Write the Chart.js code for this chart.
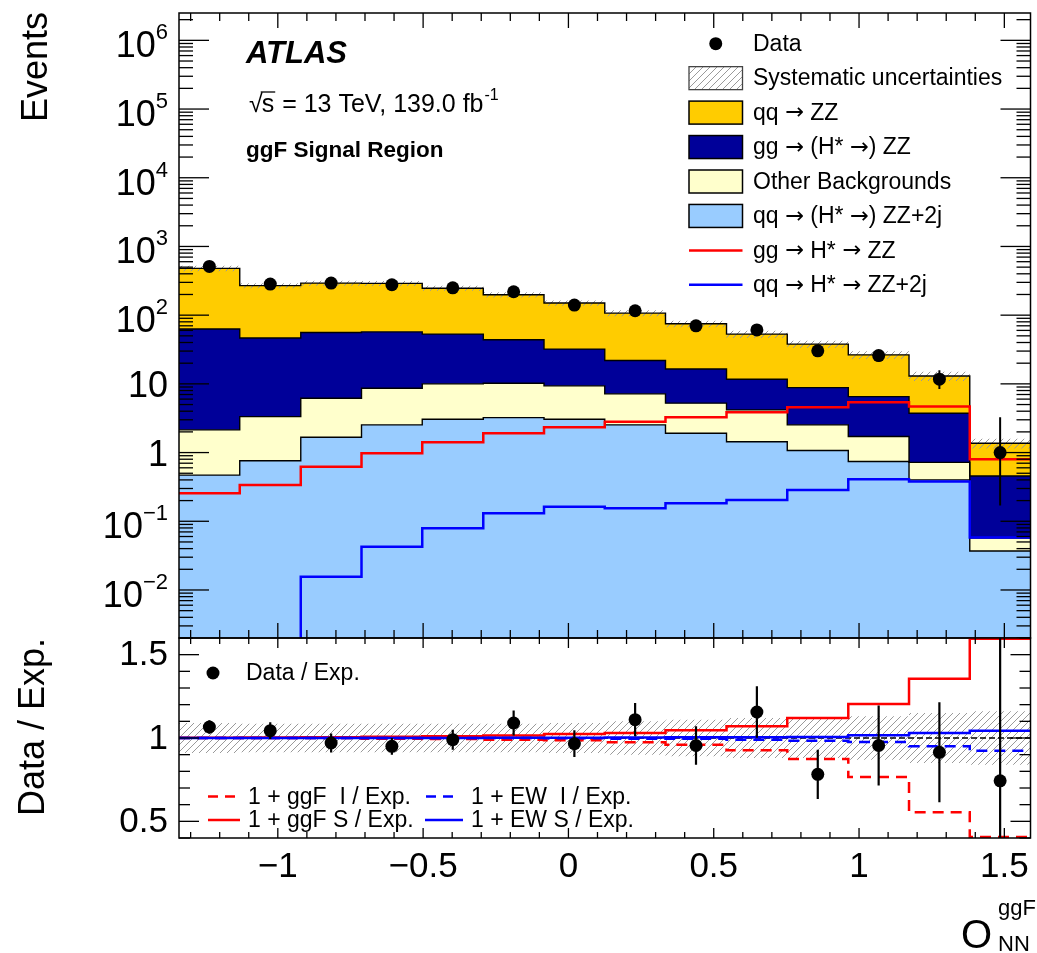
<!DOCTYPE html>
<html>
<head>
<meta charset="utf-8">
<script src="https://cdn.jsdelivr.net/npm/chart.js@4.4.0/dist/chart.umd.min.js"></script>
<style>
html,body{margin:0;padding:0;background:#fff;}
#wrap{position:relative;width:1037px;height:953px;overflow:hidden;}
#wrap canvas{position:absolute;left:0;top:0;}
</style>
</head>
<body>
<div id="wrap">
<canvas id="topPanel" width="1037" height="953"></canvas>
<canvas id="ratioPanel" width="1037" height="953"></canvas>
</div>
<script>
// ---------------- DATA ----------------
const binEdges = [-1.34, -1.131, -0.921, -0.712, -0.503, -0.293, -0.084, 0.125, 0.334, 0.544, 0.753, 0.963, 1.172, 1.381, 1.59];

const dataEvents  = [512, 283, 293, 277, 250, 219, 140, 116, 70, 61, 30.3, 25.8, 11.7, 1.0];
const dataErrDown = [22, 17, 17, 16, 16, 15, 12, 11, 8.5, 8, 5.5, 5, 3.3, 0.83];
const dataErrUp   = [23, 17, 17, 17, 16, 15, 12, 11, 8.5, 8, 5.5, 5, 4.1, 2.27];

const qqZZ     = [417, 223, 237, 233, 194, 154, 118, 85.2, 58.4, 41.3, 29.1, 19.9, 9.26, 0.91];
const ggZZ     = [60.6, 43.1, 49.6, 48.5, 43.0, 33.6, 22.7, 14.7, 11.2, 7.5, 6.3, 4.82, 3.02, 0.40];
const otherBkg = [1.67, 2.58, 4.52, 6.12, 6.94, 6.97, 6.29, 4.62, 3.33, 2.74, 1.46, 0.97, 0.32, 0.020];
const qqZZ2j   = [0.47, 0.76, 1.67, 2.53, 3.06, 3.23, 3.06, 2.53, 1.91, 1.44, 1.07, 0.74, 0.40, 0.037];

const ggHstarZZ   = [0.256, 0.338, 0.624, 0.98, 1.41, 1.91, 2.34, 2.82, 3.27, 3.87, 4.58, 5.41, 4.67, 0.80];
const qqHstarZZ2j = [0.0001, 0.0001, 0.0156, 0.0427, 0.079, 0.131, 0.163, 0.155, 0.183, 0.204, 0.286, 0.409, 0.378, 0.058];

const sysRel = [0.09, 0.085, 0.085, 0.085, 0.085, 0.085, 0.09, 0.10, 0.11, 0.12, 0.12, 0.13, 0.15, 0.16];

const ratioData    = [1.066, 1.044, 0.970, 0.950, 0.990, 1.090, 0.966, 1.110, 0.955, 1.156, 0.782, 0.955, 0.914, 0.743];
const ratioErrDown = [0.04, 0.05, 0.057, 0.05, 0.06, 0.075, 0.08, 0.10, 0.116, 0.155, 0.148, 0.24, 0.30, 0.61];
const ratioErrUp   = [0.04, 0.05, 0.057, 0.05, 0.06, 0.075, 0.08, 0.10, 0.116, 0.155, 0.148, 0.24, 0.30, 1.70];

const ggfIRatio = [1.0, 1.0, 1.0, 0.995, 0.994, 0.99, 0.986, 0.974, 0.96, 0.926, 0.874, 0.766, 0.554, 0.406];
const ggfSRatio = [1.002, 1.003, 1.005, 1.007, 1.01, 1.015, 1.024, 1.03, 1.046, 1.07, 1.12, 1.204, 1.355, 1.595];
const ewIRatio  = [1.0, 1.0, 1.0, 1.0, 1.0, 1.0, 0.998, 0.996, 0.995, 0.99, 0.984, 0.976, 0.95, 0.924];
const ewSRatio  = [1.0, 1.0, 1.0, 1.0, 1.0, 1.001, 1.002, 1.003, 1.004, 1.005, 1.006, 1.016, 1.03, 1.044];

const xTickValues = [-1, -0.5, 0, 0.5, 1, 1.5];
const xTickLabels = ['\u22121', '\u22120.5', '0', '0.5', '1', '1.5'];
const yTopTickValues = [1e-2, 1e-1, 1, 10, 1e2, 1e3, 1e4, 1e5, 1e6];
const yTopTickBase   = ['10', '10', '1', '10', '10', '10', '10', '10', '10'];
const yTopTickExp    = ['\u22122', '\u22121', '', '', '2', '3', '4', '5', '6'];
const yRatioTickValues = [0.5, 1, 1.5];
const yRatioTickLabels = ['0.5', '1', '1.5'];

// ---------------- HELPERS ----------------
const F = '"Liberation Sans", Arial, Helvetica, sans-serif';
const FA = '"DejaVu Sans", sans-serif';
const COL = { qqZZ:'#FFCC00', ggZZ:'#000099', other:'#FFFFCC', qqZZ2j:'#99CCFF', red:'#FF0000', blue:'#0000FF' };

function stepPts(vals){
  const p = vals.map((v,i)=>({x:binEdges[i], y:v}));
  p.push({x:binEdges[binEdges.length-1], y:vals[vals.length-1]});
  return p;
}
const centers = binEdges.slice(0,-1).map((e,i)=>(e+binEdges[i+1])/2);
function cum(...arrs){ return arrs[0].map((_,i)=>arrs.reduce((s,a)=>s+a[i],0)); }

const cumLB    = cum(qqZZ2j);
const cumOther = cum(qqZZ2j, otherBkg);
const cumGG    = cum(qqZZ2j, otherBkg, ggZZ);
const cumTot   = cum(qqZZ2j, otherBkg, ggZZ, qqZZ);
const topBandLo = cumTot.map((v,i)=>v*(1-sysRel[i]));
const topBandHi = cumTot.map((v,i)=>v*(1+sysRel[i]));
const ratioBandLo = sysRel.map(u=>1-u);
const ratioBandHi = sysRel.map(u=>1+u);

function makeHatch(){
  const c = document.createElement('canvas'); c.width = 7; c.height = 7;
  const g = c.getContext('2d');
  g.strokeStyle = '#9a9a9a'; g.lineWidth = 1;
  g.beginPath();
  g.moveTo(-1,8); g.lineTo(8,-1);
  g.moveTo(-1,1); g.lineTo(1,-1);
  g.moveTo(6,8); g.lineTo(8,6);
  g.stroke();
  return g.createPattern(c, 'repeat');
}
const hatch = makeHatch();

function hline(ctx,x1,y1,x2,y2){ ctx.beginPath(); ctx.moveTo(x1,y1); ctx.lineTo(x2,y2); ctx.stroke(); }

// draw text where arrows use a wider arrow glyph
function richText(ctx, text, x, y, size){
  const parts = text.split('\u2192');
  let cx = x;
  parts.forEach((p,i)=>{
    ctx.font = size+'px '+F;
    ctx.fillText(p, cx, y);
    cx += ctx.measureText(p).width;
    if (i < parts.length-1){
      ctx.font = (size*0.98)+'px '+FA;
      ctx.fillText('\u2192', cx, y);
      cx += ctx.measureText('\u2192').width;
    }
  });
}

function drawXTicks(ctx, xs, a, majLen, minLen){
  for (let k=-13; k<=15; k++){
    const px = xs.getPixelForValue(k/10);
    const L = (k%5===0) ? majLen : minLen;
    hline(ctx, px, a.bottom, px, a.bottom - L);
    hline(ctx, px, a.top, px, a.top + L);
  }
}

const common = {
  responsive:false, maintainAspectRatio:false, animation:false, devicePixelRatio:1, events:[],
  plugins:{ legend:{display:false}, tooltip:{enabled:false}, filler:{drawTime:'beforeDatasetsDraw'} },
  elements:{ point:{radius:0}, line:{tension:0} }
};

function lineDS(vals, color, width, dash, order){
  return { data: stepPts(vals), stepped:true, borderColor:color, borderWidth:width, borderDash:dash||[],
           fill:false, pointRadius:0, clip:0, order:order };
}
function stackDS(vals, color, fill, order){
  return { data: stepPts(vals), stepped:true, borderColor:'#000', borderWidth:1.4,
           backgroundColor:color, fill:fill, pointRadius:0, clip:0, order:order };
}

// ---------------- TOP PANEL ----------------
const topDeco = {
  id:'topDeco',
  afterDatasetsDraw(chart){
    const ctx = chart.ctx, a = chart.chartArea, xs = chart.scales.x, ys = chart.scales.y;
    ctx.save();
    ctx.beginPath(); ctx.rect(a.left, a.top, a.right-a.left, a.bottom-a.top); ctx.clip();
    ctx.strokeStyle = '#000'; ctx.lineWidth = 2;
    centers.forEach((c,i)=>{
      const px = xs.getPixelForValue(c);
      hline(ctx, px, ys.getPixelForValue(dataEvents[i]+dataErrUp[i]), px, ys.getPixelForValue(dataEvents[i]-dataErrDown[i]));
    });
    ctx.restore();
  },
  afterDraw(chart){
    const ctx = chart.ctx, a = chart.chartArea, xs = chart.scales.x, ys = chart.scales.y;
    ctx.save();
    ctx.strokeStyle = '#000'; ctx.lineWidth = 1.5;
    ctx.strokeRect(a.left, a.top, a.right-a.left, a.bottom-a.top);
    ctx.lineWidth = 1.3;
    drawXTicks(ctx, xs, a, 15, 8);
    for (let d=-3; d<=6; d++){
      for (let m=1; m<=9; m++){
        const v = m*Math.pow(10,d);
        if (v < ys.min || v > ys.max) continue;
        const py = ys.getPixelForValue(v);
        const L = (m===1) ? 30 : 14;
        hline(ctx, a.left, py, a.left+L, py);
        hline(ctx, a.right, py, a.right-L, py);
      }
    }
    ctx.fillStyle = '#000';
    yTopTickValues.forEach((v,i)=>{
      const py = ys.getPixelForValue(v);
      const base = yTopTickBase[i], ex = yTopTickExp[i];
      const xr = 168;
      if (!ex){
        ctx.font = '36px '+F; ctx.textAlign='right'; ctx.textBaseline='alphabetic';
        ctx.fillText(base, xr, py+13);
      } else {
        ctx.font = '22px '+F; const we = ctx.measureText(ex).width;
        ctx.textAlign='left'; ctx.textBaseline='alphabetic';
        ctx.fillText(ex, xr-we, py-1);
        ctx.font = '36px '+F; ctx.textAlign='right';
        ctx.fillText(base, xr-we, py+17);
      }
    });
    ctx.save();
    ctx.translate(46.5, 12); ctx.rotate(-Math.PI/2);
    ctx.font = '36px '+F; ctx.textAlign='right'; ctx.textBaseline='alphabetic';
    ctx.fillText('Events', 0, 0);
    ctx.restore();
    ctx.textAlign='left'; ctx.textBaseline='alphabetic';
    ctx.font = 'italic bold 31px '+F;
    ctx.fillText('ATLAS', 246, 63);
    ctx.font = '25px '+F;
    let x0 = 249, yb = 111.5;
    ctx.fillText('\u221A', x0, yb);
    const wr = ctx.measureText('\u221A').width;
    ctx.fillText('s', x0+wr-1, yb);
    const ws = ctx.measureText('s').width;
    ctx.lineWidth = 1.3;
    hline(ctx, x0+wr-2, yb-19.5, x0+wr+ws, yb-19.5);
    const rest = ' = 13 TeV, 139.0 fb';
    ctx.fillText(rest, x0+wr+ws, yb);
    const wrest = ctx.measureText(rest).width;
    ctx.font = '16px '+F;
    ctx.fillText('-1', x0+wr+ws+wrest+1, yb-12);
    ctx.font = 'bold 22.5px '+F;
    ctx.fillText('ggF Signal Region', 246, 157);
    const rows = [
      {k:'marker', t:'Data'},
      {k:'hatch', t:'Systematic uncertainties'},
      {k:'box', c:COL.qqZZ, t:'qq \u2192 ZZ'},
      {k:'box', c:COL.ggZZ, t:'gg \u2192 (H* \u2192) ZZ'},
      {k:'box', c:COL.other, t:'Other Backgrounds'},
      {k:'box', c:COL.qqZZ2j, t:'qq \u2192 (H* \u2192) ZZ+2j'},
      {k:'line', c:COL.red, t:'gg \u2192 H* \u2192 ZZ'},
      {k:'line', c:COL.blue, t:'qq \u2192 H* \u2192 ZZ+2j'}
    ];
    const bx1 = 689, bx2 = 742.5, tx = 753, y0 = 43.7, dy = 34.45;
    rows.forEach((r,i)=>{
      const y = y0 + i*dy;
      if (r.k==='marker'){
        ctx.fillStyle='#000'; ctx.beginPath(); ctx.arc((bx1+bx2)/2, y, 6.5, 0, 2*Math.PI); ctx.fill();
      } else if (r.k==='hatch'){
        ctx.fillStyle = '#fff'; ctx.fillRect(bx1, y-11.5, bx2-bx1, 23);
        ctx.fillStyle = hatch; ctx.fillRect(bx1, y-11.5, bx2-bx1, 23);
        ctx.strokeStyle='#444'; ctx.lineWidth=1.3; ctx.strokeRect(bx1, y-11.5, bx2-bx1, 23);
      } else if (r.k==='box'){
        ctx.fillStyle = r.c; ctx.fillRect(bx1, y-11.5, bx2-bx1, 23);
        ctx.strokeStyle='#000'; ctx.lineWidth=1.5; ctx.strokeRect(bx1, y-11.5, bx2-bx1, 23);
      } else {
        ctx.strokeStyle = r.c; ctx.lineWidth = 2.5; hline(ctx, bx1, y, bx2, y);
      }
      ctx.fillStyle='#000'; ctx.textAlign='left'; ctx.textBaseline='middle';
      richText(ctx, r.t, tx, y+1, 23);
    });
    ctx.restore();
  }
};

new Chart(document.getElementById('topPanel'), {
  type:'line',
  data:{ datasets:[
    stackDS(cumLB, COL.qqZZ2j, 'start', 20),
    stackDS(cumOther, COL.other, '-1', 19),
    stackDS(cumGG, COL.ggZZ, '-1', 18),
    stackDS(cumTot, COL.qqZZ, '-1', 17),
    { data: stepPts(topBandLo), stepped:true, borderWidth:0, borderColor:'rgba(0,0,0,0)', fill:false, pointRadius:0, clip:0, order:16 },
    { data: stepPts(topBandHi), stepped:true, borderWidth:0, borderColor:'rgba(0,0,0,0)', backgroundColor:hatch, fill:'-1', pointRadius:0, clip:0, order:15 },
    lineDS(ggHstarZZ, COL.red, 2.5, null, 5),
    lineDS(qqHstarZZ2j, COL.blue, 2.5, null, 4),
    { data: centers.map((c,i)=>({x:c, y:dataEvents[i]})), showLine:false, pointRadius:6.5, pointBorderWidth:0,
      pointBackgroundColor:'#000', pointBorderColor:'#000', order:1 }
  ]},
  options: Object.assign({}, common, {
    layout:{ padding:{ left:179, right:2, top:13, bottom:315 } },
    scales:{
      x:{ type:'linear', min:binEdges[0], max:binEdges[binEdges.length-1], display:false, bounds:'data' },
      y:{ type:'logarithmic', min:0.002, max:2.5e6, display:false, bounds:'data' }
    }
  }),
  plugins:[topDeco]
});

// ---------------- RATIO PANEL ----------------
const ratioDeco = {
  id:'ratioDeco',
  beforeDatasetsDraw(chart){
    const ctx = chart.ctx, a = chart.chartArea, ys = chart.scales.y;
    ctx.save();
    ctx.strokeStyle='#000'; ctx.lineWidth=1.5; ctx.setLineDash([6,3]);
    const py = ys.getPixelForValue(1);
    hline(ctx, a.left, py, a.right, py);
    ctx.restore();
  },
  afterDatasetsDraw(chart){
    const ctx = chart.ctx, a = chart.chartArea, xs = chart.scales.x, ys = chart.scales.y;
    ctx.save();
    ctx.beginPath(); ctx.rect(a.left, a.top, a.right-a.left, a.bottom-a.top); ctx.clip();
    ctx.strokeStyle='#000'; ctx.lineWidth=2.2;
    centers.forEach((c,i)=>{
      const px = xs.getPixelForValue(c);
      hline(ctx, px, ys.getPixelForValue(ratioData[i]+ratioErrUp[i]), px, ys.getPixelForValue(ratioData[i]-ratioErrDown[i]));
    });
    ctx.restore();
  },
  afterDraw(chart){
    const ctx = chart.ctx, a = chart.chartArea, xs = chart.scales.x, ys = chart.scales.y;
    ctx.save();
    ctx.strokeStyle='#000'; ctx.lineWidth=1.5;
    ctx.strokeRect(a.left, a.top, a.right-a.left, a.bottom-a.top);
    ctx.lineWidth=1.3;
    drawXTicks(ctx, xs, a, 10, 6);
    for (let k=4; k<=16; k++){
      const py = ys.getPixelForValue(k/10);
      const L = (k%5===0) ? 20 : 11;
      hline(ctx, a.left, py, a.left+L, py);
      hline(ctx, a.right, py, a.right-L, py);
    }
    ctx.fillStyle='#000';
    ctx.font='35px '+F; ctx.textAlign='right'; ctx.textBaseline='middle';
    yRatioTickValues.forEach((v,i)=>{ ctx.fillText(yRatioTickLabels[i], 168, ys.getPixelForValue(v)+1); });
    ctx.textAlign='center'; ctx.textBaseline='top';
    xTickValues.forEach((v,i)=>{ ctx.fillText(xTickLabels[i], xs.getPixelForValue(v), 850); });
    ctx.save();
    ctx.translate(44, 638); ctx.rotate(-Math.PI/2);
    ctx.font='36px '+F; ctx.textAlign='right'; ctx.textBaseline='alphabetic';
    ctx.fillText('Data / Exp.', 0, 0);
    ctx.restore();
    ctx.textAlign='left'; ctx.textBaseline='alphabetic';
    ctx.font='40px '+F; ctx.fillText('O', 961, 948);
    ctx.font='22px '+F; ctx.fillText('ggF', 998, 915); ctx.fillText('NN', 998, 951);
    ctx.beginPath(); ctx.arc(213, 673, 6.5, 0, 2*Math.PI); ctx.fill();
    ctx.font='23px '+F; ctx.textBaseline='middle';
    ctx.fillText('Data / Exp.', 246, 674);
    const L = [
      {x1:208, x2:238, y:796.5, c:COL.red, dash:[10,7], tx:248, t:'1 + ggF  I / Exp.'},
      {x1:208, x2:240, y:820, c:COL.red, dash:[], tx:248, t:'1 + ggF S / Exp.'},
      {x1:426, x2:456, y:796.5, c:COL.blue, dash:[10,7], tx:471, t:'1 + EW  I / Exp.'},
      {x1:425, x2:463, y:820, c:COL.blue, dash:[], tx:471, t:'1 + EW S / Exp.'}
    ];
    L.forEach(l=>{
      ctx.strokeStyle=l.c; ctx.lineWidth=2.5; ctx.setLineDash(l.dash);
      hline(ctx, l.x1, l.y, l.x2, l.y);
      ctx.setLineDash([]);
      ctx.fillStyle='#000'; ctx.font='23px '+F; ctx.textBaseline='middle';
      ctx.fillText(l.t, l.tx, l.y+1);
    });
    ctx.restore();
  }
};

new Chart(document.getElementById('ratioPanel'), {
  type:'line',
  data:{ datasets:[
    { data: stepPts(ratioBandLo), stepped:true, borderWidth:0, borderColor:'rgba(0,0,0,0)', fill:false, pointRadius:0, clip:0, order:20 },
    { data: stepPts(ratioBandHi), stepped:true, borderWidth:0, borderColor:'rgba(0,0,0,0)', backgroundColor:hatch, fill:'-1', pointRadius:0, clip:0, order:19 },
    lineDS(ggfIRatio, COL.red, 2.5, [11,7], 9),
    lineDS(ggfSRatio, COL.red, 2.5, null, 8),
    lineDS(ewIRatio, COL.blue, 2.5, [11,7], 7),
    lineDS(ewSRatio, COL.blue, 2.5, null, 6),
    { data: centers.map((c,i)=>({x:c, y:ratioData[i]})), showLine:false, pointRadius:6.5, pointBorderWidth:0,
      pointBackgroundColor:'#000', pointBorderColor:'#000', order:1 }
  ]},
  options: Object.assign({}, common, {
    layout:{ padding:{ left:179, right:2, top:638, bottom:115 } },
    scales:{
      x:{ type:'linear', min:binEdges[0], max:binEdges[binEdges.length-1], display:false, bounds:'data' },
      y:{ type:'linear', min:0.4, max:1.6, display:false, bounds:'data' }
    }
  }),
  plugins:[ratioDeco]
});
</script>
</body>
</html>
